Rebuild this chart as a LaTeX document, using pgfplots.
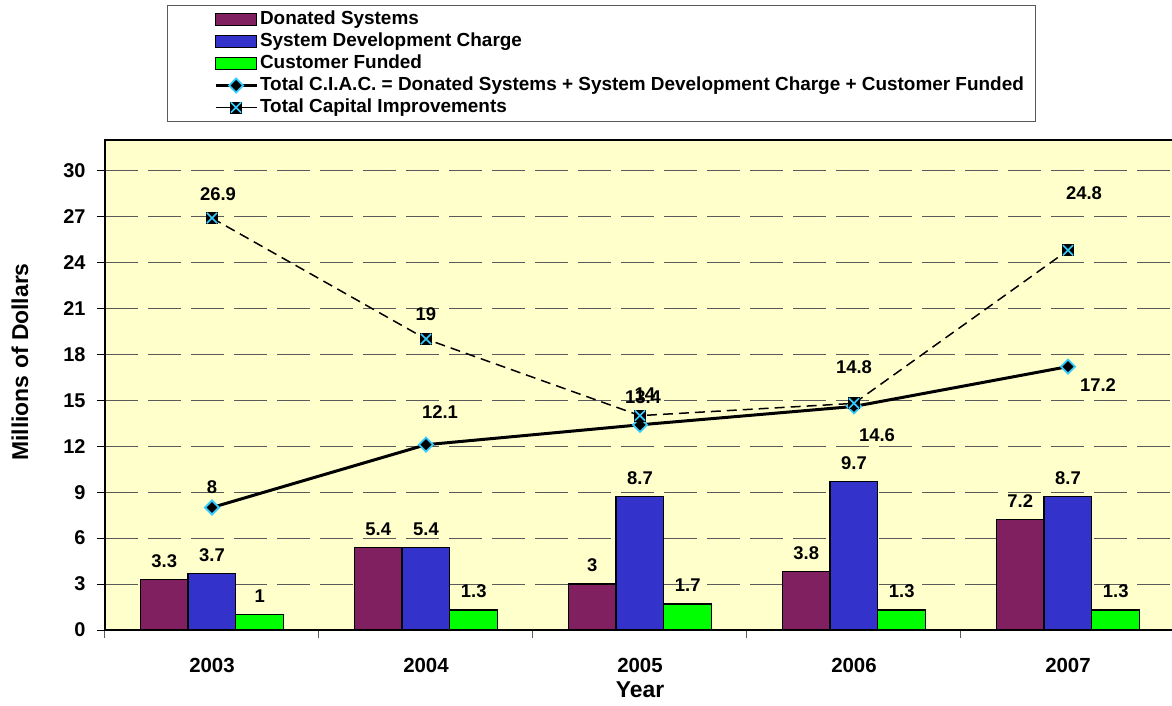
\documentclass[border=0pt]{standalone}
\usepackage{pgfplots}
\pgfplotsset{compat=1.18}
\usepackage{fontspec}
\setmainfont{Liberation Sans}
\definecolor{don}{RGB}{128,32,96}
\definecolor{sdc}{RGB}{51,51,204}
\definecolor{cf}{RGB}{0,255,0}
\definecolor{bgy}{RGB}{255,255,204}
\definecolor{cy}{RGB}{51,204,255}
\definecolor{grd}{RGB}{90,90,90}
\pgfdeclareplotmark{sqx}{%
 \pgfpathrectangle{\pgfpoint{-\pgfplotmarksize}{-\pgfplotmarksize}}{\pgfpoint{2\pgfplotmarksize}{2\pgfplotmarksize}}%
 \pgfsetfillcolor{black}\pgfusepath{fill}%
 \pgfsetstrokecolor{cy}\pgfsetlinewidth{1.6bp}%
 \pgfpathmoveto{\pgfpoint{-0.85\pgfplotmarksize}{-0.85\pgfplotmarksize}}\pgfpathlineto{\pgfpoint{0.85\pgfplotmarksize}{0.85\pgfplotmarksize}}%
 \pgfpathmoveto{\pgfpoint{-0.85\pgfplotmarksize}{0.85\pgfplotmarksize}}\pgfpathlineto{\pgfpoint{0.85\pgfplotmarksize}{-0.85\pgfplotmarksize}}%
 \pgfusepath{stroke}}
\pgfdeclareplotmark{dia}{%
 \pgfpathmoveto{\pgfpoint{0pt}{\pgfplotmarksize}}%
 \pgfpathlineto{\pgfpoint{\pgfplotmarksize}{0pt}}%
 \pgfpathlineto{\pgfpoint{0pt}{-\pgfplotmarksize}}%
 \pgfpathlineto{\pgfpoint{-\pgfplotmarksize}{0pt}}%
 \pgfpathclose
 \pgfsetfillcolor{black}\pgfsetstrokecolor{cy}\pgfsetlinewidth{1.8bp}%
 \pgfusepath{fill,stroke}}
\pgfplotsset{
 barleg/.style={legend image code/.code={\path[draw=none,fill=none] (-38bp,0bp) -- (0bp,0bp); \draw[##1] (0bp,-6bp) rectangle (41bp,6bp);}},
 lineleg/.style={legend image code/.code={\path[draw=none,fill=none] (-38bp,0bp) -- (0bp,0bp); \draw[mark repeat=2,mark phase=2,##1,solid] plot coordinates {(0bp,0bp) (20.5bp,0bp) (41bp,0bp)};}},
}
\pgfplotstableread{
x don sdc cf
0 3.3 3.7 1
1 5.4 5.4 1.3
2 3 8.7 1.7
3 3.8 9.7 1.3
4 7.2 8.7 1.3
}\bars
\pgfplotstableread{
x y dx dy
0 8 0 20
1 12.1 14 33
2 13.4 3 28
3 14.6 23 -29
4 17.2 30 -18
}\ciac
\pgfplotstableread{
x y dx dy
0 26.9 6 24
1 19 0 25
2 14 5 21
3 14.8 0 36
4 24.8 16 57
}\cap
\begin{document}
\begin{tikzpicture}
\begin{axis}[
 scale only axis, width=1070bp, height=490bp,
 xmin=-0.5, xmax=4.5, ymin=0, ymax=32,
 /pgf/number format/assume math mode=true,
 font=\bfseries,
 axis background/.style={fill=bgy},
 axis line style={black, line width=1.3bp},
 xtick={0,1,2,3,4}, xticklabels={2003,2004,2005,2006,2007},
 minor xtick={-0.5,0.5,1.5,2.5,3.5,4.5},
 major x tick style={draw=none},
 minor x tick style={draw=grd, line width=1bp},
 minor tick length=8bp,
 ytick={0,3,...,30},
 major y tick style={draw=black, line width=1bp},
 major tick length=8bp,
 tick align=outside, tick pos=left,
 ymajorgrids, major grid style={draw=grd, line width=1bp, dash pattern=on 33bp off 10bp},
 yticklabel style={font=\fontsize{20}{24}\selectfont\bfseries, xshift=-8bp},
 xticklabel style={font=\fontsize{20.5}{24}\selectfont\bfseries, yshift=-17bp},
 xlabel={Year}, ylabel={Millions of Dollars},
 xlabel style={font=\fontsize{23}{26}\selectfont\bfseries, at={(axis description cs:0.5,-0.1224)}, anchor=center},
 ylabel style={font=\fontsize{23}{26}\selectfont\bfseries, at={(axis description cs:-0.0794,0.547)}, anchor=center},
 legend style={at={(axis description cs:0.058,1.2755)}, anchor=north west,
   draw=grd, line width=1bp, fill=white, inner xsep=10bp, inner ysep=3bp,
   font=\fontsize{19}{21}\selectfont\bfseries, row sep=0bp,
   nodes={inner xsep=2bp, inner ysep=2.5bp, text height=13bp, text depth=4bp},
   legend cell align=left},
 legend cell align=left,
 every node near coord/.append style={font=\fontsize{18.5}{22}\selectfont\bfseries, text=black},
]
\addplot[ybar, bar width=47.7bp, bar shift=-47.7bp, fill=don, draw=black, line width=1.3bp, barleg,
  nodes near coords, every node near coord/.append style={yshift=8bp, xshift=-47.7bp}] table[x=x,y=don] {\bars};
\addlegendentry{Donated Systems}
\addplot[ybar, bar width=47.7bp, bar shift=0bp, fill=sdc, draw=black, line width=1.3bp, barleg,
  nodes near coords, every node near coord/.append style={yshift=8bp}] table[x=x,y=sdc] {\bars};
\addlegendentry{System Development Charge}
\addplot[ybar, bar width=47.7bp, bar shift=47.7bp, fill=cf, draw=black, line width=1.3bp, barleg,
  nodes near coords, every node near coord/.append style={yshift=8bp, xshift=47.7bp}] table[x=x,y=cf] {\bars};
\addlegendentry{Customer Funded}
\addplot[sharp plot, black, line width=3bp, mark=dia, mark size=7bp,
  mark options={solid}, lineleg,
  visualization depends on={\thisrow{dx}\as\dx},
  visualization depends on={\thisrow{dy}\as\dy},
  nodes near coords, every node near coord/.append style={anchor=center, xshift=\dx bp, yshift=\dy bp}]
  table[x=x,y=y] {\ciac};
\addlegendentry{Total C.I.A.C. = Donated Systems + System Development Charge + Customer Funded}
\addplot[sharp plot, black, line width=1.5bp, dash pattern=on 10bp off 6bp, mark=sqx, mark size=6bp,
  mark options={solid}, lineleg,
  visualization depends on={\thisrow{dx}\as\dx},
  visualization depends on={\thisrow{dy}\as\dy},
  nodes near coords, every node near coord/.append style={anchor=center, xshift=\dx bp, yshift=\dy bp}]
  table[x=x,y=y] {\cap};
\addlegendentry{Total Capital Improvements}
\coordinate (O) at (rel axis cs:0,0);
\end{axis}
\pgfresetboundingbox
\path (O) ++(-105bp,-76bp) rectangle ++(1172bp,706bp);
\end{tikzpicture}
\end{document}
